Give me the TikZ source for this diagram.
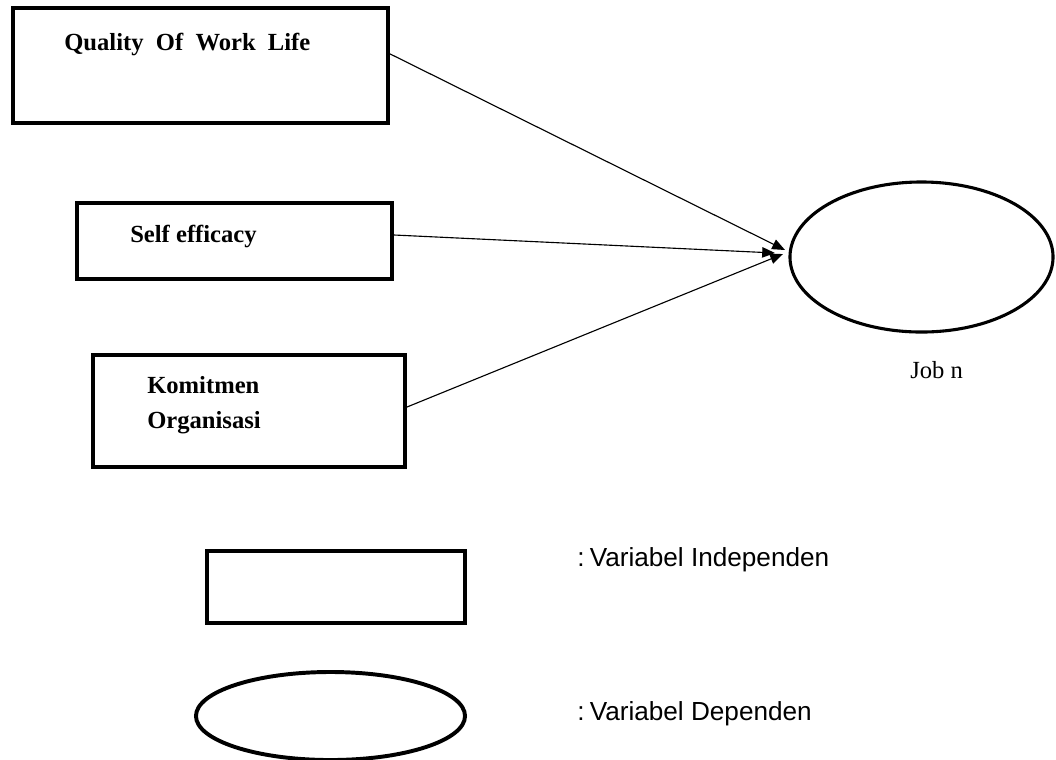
\documentclass[tikz,border=0pt]{standalone}
\usepackage{fontspec}
\setmainfont{Liberation Serif}
\newfontfamily\legfont{Liberation Sans}
\usetikzlibrary{arrows.meta,positioning,shapes.geometric}

\begin{document}
\begin{tikzpicture}[
      x=0.025cm, y=-0.025cm,
      varbox/.style = {draw, line width=2.8pt, rectangle, inner sep=0pt},
      varell/.style = {draw, line width=2.2pt, ellipse, inner sep=0pt},
      vlbl/.style   = {inner sep=0pt, anchor=base west, align=left,
                       font=\fontsize{17.5}{24.8}\selectfont\bfseries},
      leglbl/.style = {inner sep=0pt, anchor=base west,
                       font=\legfont\fontsize{18.6}{22}\selectfont},
      arr/.style    = {-{Triangle[length=0.32cm, width=0.26cm]}, line width=0.8pt},
    ]
    \useasboundingbox (0,0) rectangle (1056,759);

    % ---- independent variables ----
    \node[varbox, minimum width=9.375cm, minimum height=2.875cm] (qwl)  at (200.5,65.5) {};
    \node[varbox, minimum width=7.875cm, minimum height=1.9cm]   (self) at (234.5,241)  {};
    \node[varbox, minimum width=7.8cm,   minimum height=2.8cm]   (kom)  at (249,411)    {};

    \node[vlbl] (qwltxt)  at (64,50)   {Quality\ \ Of\ \ Work\ \ Life};
    \node[vlbl] (selftxt) at (130,242) {Self efficacy};
    \node[vlbl] (komtxt)  at (147,428) {Komitmen\\Organisasi};

    % ---- dependent variable ----
    \node[varell, minimum width=6.575cm, minimum height=3.75cm] (job) at (921.5,257) {};
    \node[vlbl, font=\fontsize{17.5}{24.8}\selectfont] (jobtxt) at (910,378) {Job n};

    \coordinate (tip1) at (785,250);
    \coordinate (tip2) at (775,253);
    \coordinate (tip3) at (783,254);

    \draw[arr] ([yshift=0.29cm]qwl.east) -- (tip1);
    \draw[arr] ([yshift=0.15cm]self.east) -- (tip2);
    \draw[arr] ([yshift=0.1cm]kom.east)  -- (tip3);

    % ---- legend ----
    \node[varbox, minimum width=6.45cm, minimum height=1.8cm]  (legbox) at (336,587)   {};
    \node[varell, line width=2.8pt, minimum width=6.725cm, minimum height=2.2cm] (legell) at (330.5,716) {};

    \node[leglbl] (legind) at (577,566) {:\kern0.2em Variabel Independen};
    \node[leglbl] (legdep) at (577,720) {:\kern0.2em Variabel Dependen};
  \end{tikzpicture}
\end{document}
